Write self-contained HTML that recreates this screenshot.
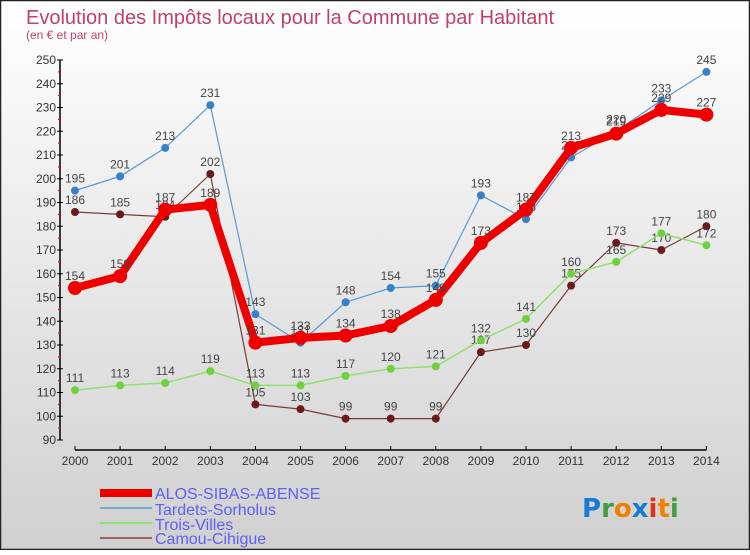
<!DOCTYPE html>
<html><head><meta charset="utf-8">
<style>
html,body{margin:0;padding:0}
body{width:750px;height:550px;overflow:hidden;font-family:"Liberation Sans",sans-serif}
</style></head>
<body>
<svg id="chart" width="750" height="550" xmlns="http://www.w3.org/2000/svg">
<defs>
<linearGradient id="bg" x1="0" y1="0" x2="0" y2="1">
<stop offset="0" stop-color="#ffffff"/><stop offset="1" stop-color="#d0d0d0"/>
</linearGradient>
</defs>
<rect x="0.5" y="0.5" width="749" height="549" fill="url(#bg)" stroke="#222" stroke-width="1.5"/>
<text x="26" y="24" font-size="20" fill="#c0406a">Evolution des Impôts locaux pour la Commune par Habitant</text>
<text x="26" y="39" font-size="12" fill="#c0406a">(en € et par an)</text>
<g id="axes"></g>
<g id="series"></g>
<g id="legend">
<rect x="100" y="489" width="52" height="8" fill="#e00"/>
<text x="155" y="499" font-size="16" fill="#6060f0">ALOS-SIBAS-ABENSE</text>
<rect x="100" y="507" width="52" height="2" fill="#7aaac8"/>
<text x="155" y="515" font-size="16" fill="#6060f0">Tardets-Sorholus</text>
<rect x="100" y="522" width="52" height="2" fill="#90e070"/>
<text x="155" y="530" font-size="16" fill="#6060f0">Trois-Villes</text>
<rect x="100" y="537" width="52" height="2" fill="#a06060"/>
<text x="155" y="544" font-size="16" fill="#6060f0">Camou-Cihigue</text>
</g>
<g font-size="26" font-weight="bold" font-family="'DejaVu Sans',sans-serif">
<text x="582" y="517" fill="#1a7ad0">P<tspan fill="#40a040">r</tspan><tspan fill="#f08000">o</tspan><tspan fill="#1a7ad0">x</tspan><tspan fill="#e03020">i</tspan><tspan fill="#f08000">t</tspan><tspan fill="#40a040">i</tspan></text>
</g>
</svg>
<script>
const years = [2000,2001,2002,2003,2004,2005,2006,2007,2008,2009,2010,2011,2012,2013,2014];
const yTicks = [90,100,110,120,130,140,150,160,170,180,190,200,210,220,230,240,250];
const alos = [154,159,187,189,131,133,134,138,149,173,187,213,219,229,227];
const tardets = [195,201,213,231,143,131,148,154,155,193,183,209,220,233,245];
const trois = [111,113,114,119,113,113,117,120,121,132,141,160,165,177,172];
const camou = [186,185,184,202,105,103,99,99,99,127,130,155,173,170,180];

const NS = "http://www.w3.org/2000/svg";
const x = i => 75 + i * 45.1;
const y = v => 440 - (v - 90) * 2.375;
function mk(parent, tag, attrs) {
  const e = document.createElementNS(NS, tag);
  for (const k in attrs) e.setAttribute(k, attrs[k]);
  parent.appendChild(e);
  return e;
}
const axes = document.getElementById('axes');
const ya = mk(axes, 'line', {x1:60, y1:y(250), x2:60, y2:y(90), stroke:'#000', 'stroke-width':1.5});


yTicks.forEach((t, i) => {
  const tk = mk(axes, 'line', {x1:57, y1:y(t), x2:63, y2:y(t), stroke:'#000'});
  
  
  const lb = mk(axes, 'text', {x:56, y:y(t)+4, 'font-size':12, 'text-anchor':'end', fill:'#333'});
  lb.textContent = t;
  
  
  if (i < yTicks.length - 1) {
    const m = mk(axes, 'line', {x1:58, y1:y(t+5), x2:61, y2:y(t+5), stroke:'#e00'});
    
    
  }
});
const xa = mk(axes, 'line', {x1:x(0), y1:450, x2:x(years.length-1), y2:450, stroke:'#000', 'stroke-width':1.5});


years.forEach((yr, i) => {
  const tk = mk(axes, 'line', {x1:x(i), y1:446, x2:x(i), y2:450, stroke:'#000'});
  
  
  const lb = mk(axes, 'text', {x:x(i), y:465, 'font-size':12, 'text-anchor':'middle', fill:'#333'});
  lb.textContent = yr;
  
  
});
const series = document.getElementById('series');
function draw(data, name, color, width, r, dotColor) {
  const g = mk(series, 'g', {});
  
  
  const pl = mk(g, 'polyline', {points:data.map((v,i)=>x(i)+','+y(v)).join(' '), fill:'none', stroke:color, 'stroke-width':width, 'stroke-linejoin':'round'});
  
  
  data.forEach((v, i) => {
    const c = mk(g, 'circle', {cx:x(i), cy:y(v), r:r, fill:dotColor});
    
    
    const t = mk(g, 'text', {x:x(i), y:y(v)-8, 'font-size':12, 'text-anchor':'middle', fill:'#444'});
    t.textContent = v;
    
    
  });
}
draw(camou, 'camou', '#7a3a3a', 1.2, 4, '#6a1a1a');
draw(trois, 'trois', '#90e070', 1.5, 4, '#70d040');
draw(tardets, 'tardets', '#5a9ad0', 1.2, 4, '#3a80c8');
draw(alos, 'alos', '#ee0000', 8, 7, '#ee0000');
</script>
</body></html>
